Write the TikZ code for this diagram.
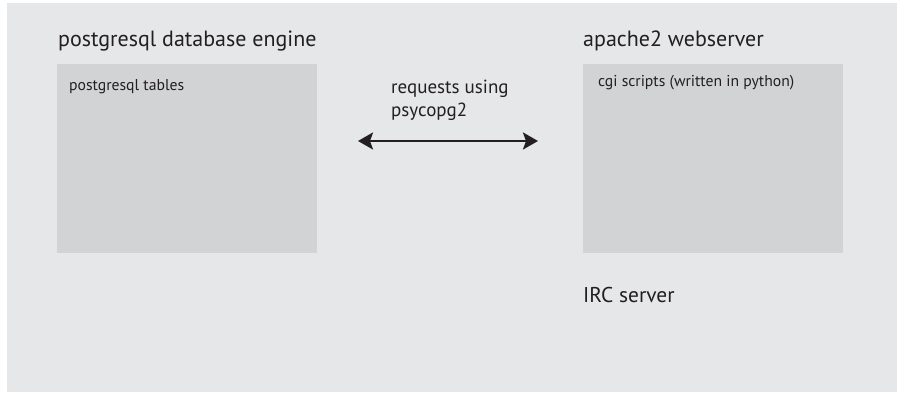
\documentclass[tikz,border=0pt]{standalone}
\usepackage{fontspec}
\setmainfont{PT Sans}
\usetikzlibrary{arrows.meta}
\definecolor{bgc}{HTML}{E6E7E8}
\definecolor{boxc}{HTML}{D1D3D4}
\definecolor{txtc}{HTML}{231F20}
\tikzset{
  lbl/.style={anchor=base west, inner sep=0pt, text=txtc},
  big/.style={lbl, font=\fontsize{22}{26}\selectfont},
  mid/.style={lbl, font=\fontsize{19}{23}\selectfont},
  small/.style={lbl, font=\fontsize{15.7}{19}\selectfont},
  panel/.style={fill=boxc, draw=none},
  link/.style={line width=2.5pt, draw=txtc, >={Stealth[length=15pt,width=17pt,inset=3pt]}, <->},
}
\begin{document}
\begin{tikzpicture}[x=1pt,y=-1pt]
\useasboundingbox (0,0) rectangle (897,393);
\fill[bgc] (7,3) rectangle (897,392);
\fill[panel] (57,64) rectangle (317,253);
\fill[panel] (583,64) rectangle (843,253);
\node[big] (pgtitle) at (58,47) {postgresql database engine};
\node[small] (pgtab) at (69,91) {postgresql tables};
\node[big] (aptitle) at (583,47) {apache2 webserver};
\node[small] (cgi) at (598,87) {cgi scripts (written in python)};
\node[mid] (req1) at (391,94) {requests using};
\node[mid] (req2) at (391,117) {psycopg2};
\node[lbl, font=\fontsize{21.4}{25}\selectfont] (irc) at (583,302) {IRC server};
\coordinate (al) at (358,141);
\coordinate (ar) at (538,141);
\draw[link] (al) -- (ar);
\end{tikzpicture}
\end{document}
